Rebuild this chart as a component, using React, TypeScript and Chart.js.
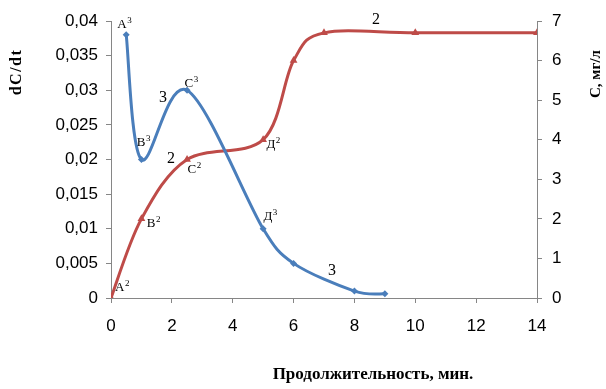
import React, { useEffect, useRef } from "react";
import { Chart, registerables } from "chart.js";

Chart.register(...registerables);

// Curve 3: dC/dt (left axis)
const rateX = [0.5, 1, 2.5, 5, 6, 8, 9];
const rateY = [0.038, 0.02, 0.03, 0.01, 0.005, 0.001, 0.0006];
const rateNames = ["А", "В", "С", "Д", "", "", ""];
const rateSup = "3";

// Curve 2: C, мг/л (right axis)
const concX = [0, 1, 2.5, 5, 6, 7, 10, 14];
const concY = [0, 2, 3.5, 4, 6, 6.7, 6.7, 6.7];
const concNames = ["А", "В", "С", "Д", "", "", "", ""];
const concSup = "2";

// Curve number labels
const curveLabelText = ["3", "3", "2", "2"];
const curveLabelX = [1.71, 7.26, 1.97, 8.71];
const curveLabelY = [0.0289, 0.004, 3.51, 7.03];
const curveLabelAxis = ["y", "y", "y1", "y1"];

const xTitle = "Продолжительность, мин.";
const yTitle = "dC/dt";
const y1Title = "С, мг/л";

const BLUE = "#4A7EBB";
const RED = "#BE4B48";
const AXIS = "#868686";

const rateOffsets: [number, number][] = [[-2, -11], [2, -18], [4, -8], [7, -13]];
const concOffsets: [number, number][] = [[11, -12], [12, 4], [7, 9], [10, 4]];

const fmt = (v: number) => String(parseFloat(Number(v).toFixed(4))).replace(".", ",");

function drawSup(ctx: any, base: string, sup: string, cx: number, cy: number) {
  ctx.font = '13px "Liberation Serif"';
  const wb = ctx.measureText(base).width;
  ctx.font = '9px "Liberation Serif"';
  const ws = ctx.measureText(sup).width;
  const x0 = cx - (wb + ws) / 2;
  ctx.textAlign = "left";
  ctx.textBaseline = "alphabetic";
  ctx.font = '13px "Liberation Serif"';
  ctx.fillText(base, x0, cy + 4.5);
  ctx.font = '9px "Liberation Serif"';
  ctx.fillText(sup, x0 + wb + 0.5, cy - 0.5);
}

// Excel-like smoothing: Catmull-Rom handles (1/6), each capped at half its segment
const smoothPlugin = {
  id: "excelSmooth",
  beforeDatasetsDraw(chart: any) {
    chart.data.datasets.forEach((_: any, di: number) => {
      const meta = chart.getDatasetMeta(di);
      const pts = meta.data;
      const n = pts.length;
      for (let i = 0; i < n; i++) {
        const p = pts[i];
        const prev = pts[Math.max(0, i - 1)];
        const next = pts[Math.min(n - 1, i + 1)];
        const dx = (next.x - prev.x) / 6;
        const dy = (next.y - prev.y) / 6;
        const hl = Math.hypot(dx, dy) || 1;
        const dPrev = Math.hypot(p.x - prev.x, p.y - prev.y);
        const dNext = Math.hypot(next.x - p.x, next.y - p.y);
        const sIn = Math.min(1, dPrev / 2 / hl);
        const sOut = Math.min(1, dNext / 2 / hl);
        p.cp1x = p.x - dx * sIn;
        p.cp1y = p.y - dy * sIn;
        p.cp2x = p.x + dx * sOut;
        p.cp2y = p.y + dy * sOut;
      }
      if (meta.dataset) meta.dataset._pointsUpdated = true;
    });
  },
};

const annotPlugin = {
  id: "annot",
  afterDatasetsDraw(chart: any) {
    const ctx = chart.ctx;
    ctx.save();
    ctx.fillStyle = "#000";
    const draw = (dsIdx: number, names: string[], sup: string, offs: [number, number][]) => {
      const meta = chart.getDatasetMeta(dsIdx);
      names.forEach((n, i) => {
        if (!n) return;
        const el = meta.data[i];
        const o = offs[i] || [0, 0];
        drawSup(ctx, n, sup, el.x + o[0], el.y + o[1]);
      });
    };
    draw(0, rateNames, rateSup, rateOffsets);
    draw(1, concNames, concSup, concOffsets);

    ctx.textAlign = "center";
    ctx.textBaseline = "middle";
    ctx.font = '16px "Liberation Serif"';
    curveLabelText.forEach((t, i) => {
      const xs = chart.scales.x;
      const ys = chart.scales[curveLabelAxis[i]];
      ctx.fillText(t, xs.getPixelForValue(curveLabelX[i]), ys.getPixelForValue(curveLabelY[i]));
    });

    // axis titles
    ctx.font = 'bold 17px "Liberation Serif"';
    ctx.fillText(xTitle, 373, 375);
    ctx.save();
    ctx.translate(17, 72);
    ctx.rotate(-Math.PI / 2);
    ctx.font = 'bold 16px "Liberation Serif"';
    (ctx as any).letterSpacing = "1.5px";
    ctx.fillText(yTitle, 0, 0);
    ctx.restore();
    ctx.save();
    ctx.translate(596, 74);
    ctx.rotate(-Math.PI / 2);
    ctx.font = 'bold 15px "Liberation Serif"';
    ctx.fillText(y1Title, 0, 0);
    ctx.restore();
    ctx.restore();
  },
};

export default function App() {
  const ref = useRef<HTMLCanvasElement>(null);
  useEffect(() => {
    if (!ref.current) return;
    const tickFont = { family: '"Liberation Sans"', size: 17 };
    const chart = new Chart(ref.current, {
      type: "line",
      data: {
        datasets: [
          {
            data: rateX.map((x, i) => ({ x, y: rateY[i] })),
            yAxisID: "y",
            borderColor: BLUE,
            backgroundColor: BLUE,
            borderWidth: 3,
            pointStyle: "rectRot",
            pointRadius: 3.5,
            pointBorderWidth: 0,
            tension: 0.4,
            capBezierPoints: false,
            fill: false,
          },
          {
            data: concX.map((x, i) => ({ x, y: concY[i] })),
            yAxisID: "y1",
            borderColor: RED,
            backgroundColor: RED,
            borderWidth: 3,
            pointStyle: "triangle",
            pointRadius: 4.5,
            pointBorderWidth: 0,
            tension: 0.4,
            capBezierPoints: false,
            fill: false,
          },
        ],
      },
      options: {
        responsive: false,
        animation: false,
        events: [],
        layout: { padding: { top: 21, left: 0, right: 0, bottom: 0 } },
        plugins: { legend: { display: false }, tooltip: { enabled: false } },
        scales: {
          x: {
            type: "linear",
            min: 0,
            max: 14,
            afterFit: (s: any) => { s.height = 91; },
            border: { display: true, color: AXIS, width: 1 },
            grid: { drawOnChartArea: false, drawTicks: true, tickLength: 5, color: AXIS },
            ticks: { stepSize: 2, color: "#000", font: tickFont, padding: 13, maxRotation: 0 },
          },
          y: {
            position: "left",
            min: 0,
            max: 0.04,
            afterFit: (s: any) => { s.width = 111; },
            border: { display: true, color: AXIS, width: 1 },
            grid: { drawOnChartArea: false, drawTicks: true, tickLength: 5, color: AXIS },
            ticks: { stepSize: 0.005, color: "#000", font: tickFont, padding: 8, callback: (v: any) => fmt(v) },
          },
          y1: {
            position: "right",
            min: 0,
            max: 7,
            afterFit: (s: any) => { s.width = 69; },
            border: { display: true, color: AXIS, width: 1 },
            grid: { drawOnChartArea: false, drawTicks: true, tickLength: 5, color: AXIS },
            ticks: { stepSize: 1, color: "#000", font: tickFont, padding: 10 },
          },
        },
      },
      plugins: [smoothPlugin, annotPlugin],
    } as any);
    return () => chart.destroy();
  }, []);
  return (
    <div style={{ position: "absolute", left: 0, top: 0, width: 606, height: 389, background: "#fff" }}>
      <canvas ref={ref} width={606} height={389} style={{ width: 606, height: 389 }} />
    </div>
  );
}
